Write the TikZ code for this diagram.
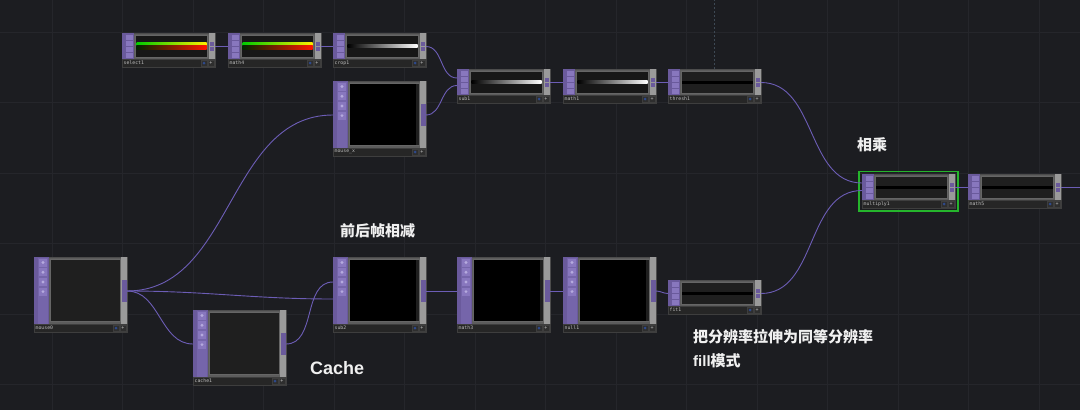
\documentclass[tikz,border=0pt]{standalone}
\usepackage{fontspec}
\newfontfamily\cjk{Noto Sans CJK SC}
\newfontfamily\capfont{Liberation Sans}
\newfontfamily\tdmono{DejaVu Sans Mono}
\usetikzlibrary{calc}

\definecolor{canvas}{HTML}{1C1D21}
\definecolor{gridline}{HTML}{25262B}
\definecolor{linkdash}{HTML}{3E4954}
\definecolor{opframe}{HTML}{5C5C5C}
\definecolor{oppurple}{HTML}{6A5A9C}
\definecolor{stripinner}{HTML}{7565AA}
\definecolor{iconpurple}{HTML}{8877BE}
\definecolor{iconmark}{HTML}{C9C0EC}
\definecolor{rightstrip}{HTML}{9A9A9A}
\definecolor{labelbg}{HTML}{262626}
\definecolor{labeledge}{HTML}{3E3E3E}
\definecolor{labeltext}{HTML}{BDBDBD}
\definecolor{btnbg}{HTML}{2E2E2E}
\definecolor{btnblue}{HTML}{2E4A8C}
\definecolor{wirecol}{HTML}{6C5DB6}
\definecolor{pickgreen}{HTML}{25B52C}
\definecolor{viewdark}{HTML}{171717}
\definecolor{viewgray}{HTML}{1F1F1F}

% small (chop-like) operator: name, x, y, label
\newcommand{\chopop}[4]{%
  \node[opbody, minimum height=26pt] (#1) at (#2,#3) {};
  \fill[oppurple] (#1.north west) rectangle ++(12,26);
  \foreach \k in {0,...,3}
    \fill[iconpurple] ($(#1.north west)+(3.5,1.5+6*\k)$) rectangle ++(7,5);
  \node[preview, minimum width=72pt, minimum height=22pt, fill=viewdark] (#1-pv)
    at ($(#1.north west)+(49.5,13)$) {};
  \fill[rightstrip] ($(#1.north east)+(-6,0)$) rectangle ++(6,26);
  \fill[oppurple] ($(#1.north east)+(-5,8.5)$) rectangle ++(4,4);
  \fill[oppurple] ($(#1.north east)+(-5,14)$) rectangle ++(4,4);
  \node[labelbar] (#1-lb) at ($(#1.north west)+(0,26)$) {};
  \node[oplabel] at (#1-lb.west) {#4};
  \node[btn] at ($(#1-lb.east)+(-11,0)$) {};
  \fill[btnblue] ($(#1-lb.east)+(-11,0)$) circle (1.5);
  \node[btn] at ($(#1-lb.east)+(-4,0)$) {+};
  \coordinate (#1-i) at ($(#1.north west)+(0,13.5)$);
  \coordinate (#1-ia) at ($(#1.north west)+(0,9)$);
  \coordinate (#1-ib) at ($(#1.north west)+(0,16.5)$);
  \coordinate (#1-o) at ($(#1.north east)+(0,13.5)$);
}

% big (top-like) operator: name, x, y, label, viewer colour
\newcommand{\topop}[5]{%
  \node[opbody, minimum height=67pt] (#1) at (#2,#3) {};
  \fill[oppurple] (#1.north west) rectangle ++(15,67);
  \fill[stripinner] ($(#1.north west)+(4,0.5)$) rectangle ++(10,66);
  \foreach \k in {0,...,3} {
    \fill[iconpurple] ($(#1.north west)+(5,1.5+9.7*\k)$) rectangle ++(8,8);
    \fill[iconmark, opacity=.7] ($(#1.north west)+(9,5.5+9.7*\k)$) circle (1.6);
  }
  \node[preview, minimum width=70pt, minimum height=62pt, fill=#5] (#1-pv)
    at ($(#1.north west)+(51.5,33.5)$) {};
  \fill[viewgray] ($(#1-pv.north east)+(-4,0.5)$) rectangle ($(#1-pv.south east)+(-0.5,-0.5)$);
  \fill[rightstrip] ($(#1.north east)+(-6,0)$) rectangle ++(6,67);
  \fill[oppurple] ($(#1.north east)+(-5.5,23)$) rectangle ++(5,22);
  \node[labelbar] (#1-lb) at ($(#1.north west)+(0,67)$) {};
  \node[oplabel] at (#1-lb.west) {#4};
  \node[btn] at ($(#1-lb.east)+(-11,0)$) {};
  \fill[btnblue] ($(#1-lb.east)+(-11,0)$) circle (1.5);
  \node[btn] at ($(#1-lb.east)+(-4,0)$) {+};
  \coordinate (#1-i) at ($(#1.north west)+(0,34)$);
  \coordinate (#1-ia) at ($(#1.north west)+(0,25)$);
  \coordinate (#1-ib) at ($(#1.north west)+(0,42)$);
  \coordinate (#1-o) at ($(#1.north east)+(0,34)$);
}

\begin{document}
\begin{tikzpicture}[
    x=1pt, y=-1pt,
    opbody/.style={anchor=north west, minimum width=93pt, inner sep=0pt,
                   outer sep=0pt, fill=opframe, draw=black!70, line width=0.4pt},
    preview/.style={inner sep=0pt, outer sep=0pt, draw=black!60, line width=0.3pt},
    labelbar/.style={anchor=north west, minimum width=93pt, minimum height=8pt,
                     inner sep=0pt, outer sep=0pt, fill=labelbg, draw=labeledge,
                     line width=0.4pt},
    oplabel/.style={anchor=west, inner sep=1.5pt, text=labeltext,
                    font=\tdmono\fontsize{4.8}{5}\selectfont},
    btn/.style={minimum size=6pt, inner sep=0pt, fill=btnbg, draw=labeledge,
                line width=0.3pt, text=labeltext, font=\tdmono\fontsize{5}{5}\selectfont},
    wire/.style={draw=wirecol, line width=0.9pt},
    note/.style={anchor=west, inner sep=0pt, text=white!94!black,
                 font=\cjk\bfseries\fontsize{15}{18}\selectfont},
    pickframe/.style={draw=pickgreen, line width=1.4pt}
  ]
  \useasboundingbox (0,0) rectangle (1080,410);
  \fill[canvas] (0,0) rectangle (1080,410);
  \foreach \gx in {0,...,14}
    \draw[gridline, line width=0.8pt] ({52+70.5*\gx},0) -- ++(0,410);
  \foreach \gy in {0,...,5}
    \draw[gridline, line width=0.8pt] (0,{32+70.5*\gy}) -- ++(1080,0);

  % operators
  \chopop{select1}{122}{33}{select1}
  \chopop{math4}{228}{33}{math4}
  \chopop{crop1}{333}{33}{crop1}
  \topop{mousex}{333}{81}{mouse\_x}{black}
  \chopop{sub1}{457}{69}{sub1}
  \chopop{math1}{563}{69}{math1}
  \chopop{thresh1}{668}{69}{thresh1}
  \chopop{multiply1}{862}{174}{multiply1}
  \chopop{math5}{968}{174}{math5}
  \topop{mouse0}{34}{257}{mouse0}{viewgray}
  \topop{cache1}{193}{310}{cache1}{viewgray}
  \topop{sub2}{333}{257}{sub2}{black}
  \topop{math3}{457}{257}{math3}{black}
  \topop{null1}{563}{257}{null1}{black}
  \chopop{fit1}{668}{280}{fit1}

  % viewers
  \foreach \n in {select1, math4} {
    \shade[left color=green!80!black, middle color=green!55!yellow, right color=yellow!85!orange]
      ($(\n-pv.west)+(1,-4)$) rectangle ($(\n-pv.east)+(-1,-0.5)$);
    \shade[left color=black!85!green, middle color=orange!55!black, right color=red!85!orange]
      ($(\n-pv.west)+(1,-0.5)$) rectangle ($(\n-pv.east)+(-1,3)$);
  }
  \foreach \n in {crop1, sub1, math1}
    \shade[left color=black, right color=white]
      ($(\n-pv.west)+(1,-1.3)$) rectangle ($(\n-pv.east)+(-1,1.3)$);
  \foreach \n in {thresh1, multiply1, math5, fit1} {
    \fill[viewgray] ($(\n-pv.north west)+(0.5,0.5)$) rectangle ($(\n-pv.south east)+(-0.5,-0.5)$);
    \fill[black] ($(\n-pv.west)+(0.5,-1.5)$) rectangle ($(\n-pv.east)+(-0.5,1.5)$);
  }

  % selection frame and link line
  \draw[pickframe] ($(multiply1.north west)+(-3,-2.5)$) rectangle ($(multiply1-lb.south east)+(3,3)$);
  \draw[linkdash, dash pattern=on 2pt off 2pt, line width=0.6pt]
    (thresh1.north) -- (thresh1.north |- 0,0);

  % wires
  \coordinate (exit) at (1080,187.5);
  \draw[wire] (select1-o) -- (math4-i);
  \draw[wire] (math4-o) -- (crop1-i);
  \draw[wire] (crop1-o) to[out=0, in=180] (sub1-ia);
  \draw[wire] (mousex-o) to[out=0, in=180] (sub1-ib);
  \draw[wire] (sub1-o) -- (math1-i);
  \draw[wire] (math1-o) -- (thresh1-i);
  \draw[wire] (thresh1-o) to[out=0, in=180] (multiply1-ia);
  \draw[wire] (fit1-o) to[out=0, in=180] (multiply1-ib);
  \draw[wire] (multiply1-o) -- (math5-i);
  \draw[wire] (math5-o) -- (exit);
  \draw[wire] (mouse0-o) to[out=0, in=180] (mousex-i);
  \draw[wire] (mouse0-o) to[out=0, in=180] (sub2-ib);
  \draw[wire] (mouse0-o) to[out=0, in=180] (cache1-i);
  \draw[wire] (cache1-o) to[out=0, in=180] (sub2-ia);
  \draw[wire] (sub2-o) -- (math3-i);
  \draw[wire] (math3-o) -- (null1-i);
  \draw[wire] (null1-o) to[out=0, in=180] (fit1-i);

  % notes
  \node[note] (n-mul) at (857,145) {相乘};
  \node[note] (n-diff) at (340,231) {前后帧相减};
  \node[note, font=\capfont\bfseries\fontsize{18}{20}\selectfont] (n-cache) at (310,368) {Cache};
  \node[note] (n-fit) at (693,337) {把分辨率拉伸为同等分辨率};
  \node[note] (n-fill) at (693,361) {{\capfont fill}模式};
\end{tikzpicture}
\end{document}
